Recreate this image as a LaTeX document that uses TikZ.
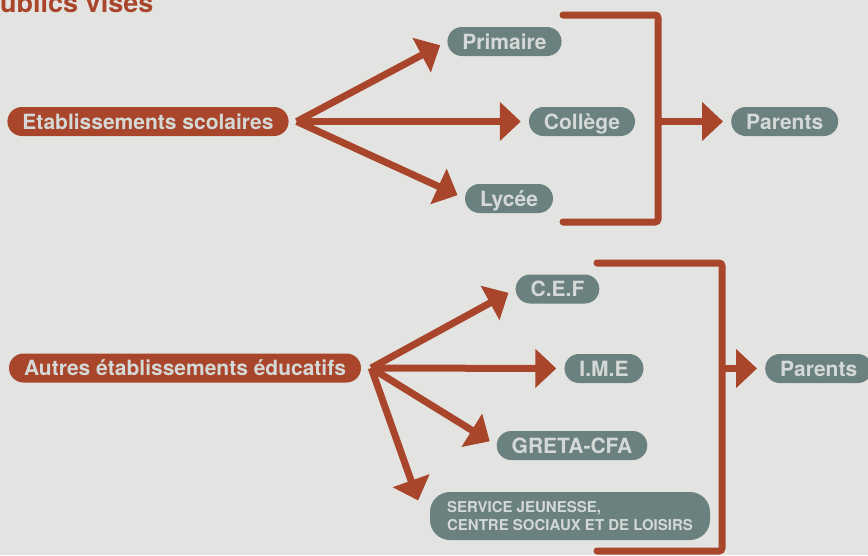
\documentclass[tikz,border=0pt]{standalone}
\usepackage{fontspec}
\setmainfont{TeX Gyre Heros}
\usetikzlibrary{arrows.meta}
\definecolor{brique}{HTML}{A8452A}
\definecolor{ardoise}{HTML}{6B817F}
\definecolor{fond}{HTML}{E3E4E2}
\definecolor{clair}{HTML}{D4D8D6}

\begin{document}
\begin{tikzpicture}[x=1pt,y=-1pt,
    bulle/.style={fill=ardoise,text=clair,inner xsep=15pt,inner ysep=0pt},
    pill/.style={bulle,rounded corners=14.5pt,minimum height=29pt,text height=15pt,text depth=0pt,font=\fontsize{21}{25}\selectfont\bfseries},
    pillr/.style={pill,fill=brique},
    fleche/.style={brique,line width=7pt,-{Triangle[length=21pt,width=38pt]},shorten >=8pt},
    crochet/.style={brique,line width=7pt,line cap=round,rounded corners=3pt}]
    \useasboundingbox (0,0) rectangle (868,555);
    \fill[fond] (0,0) rectangle (868,555);
    \node[anchor=base west,inner sep=0pt,text=brique,font=\fontsize{27}{30}\selectfont\bfseries] (titre) at (-18,12.5) {Publics visés};
    % etablissements scolaires
    \node[pillr] (ecoles) at (148,121.5) {Etablissements scolaires};
    \node[pill] (prim) at (504.5,41.5) {Primaire};
    \node[pill] (coll) at (582,121.5) {Collège};
    \node[pill] (lyc) at (509,198.5) {Lycée};
    \node[pill,anchor=west] (par1) at (731,121.5) {Parents};
    \coordinate (o1) at ([xshift=8pt]ecoles.east);
    \foreach \n in {prim,coll,lyc} \draw[fleche] (o1) -- (\n.west);
    \draw[crochet] (563,15) -- (658,15) -- (658,222) -- (563,222);
    \coordinate (c1) at (658,121.5);
    \draw[fleche] (c1) -- (par1.west);
    % autres etablissements
    \node[pillr] (autres) at (185,368) {Autres établissements éducatifs};
    \node[pill] (cef) at (557.5,289) {C.E.F};
    \node[pill] (ime) at (604,368.5) {I.M.E};
    \node[pill] (greta) at (572,445.5) {GRETA-CFA};
    \node[bulle,rounded corners=20pt,minimum height=48pt,minimum width=280pt,align=left,font=\fontsize{15}{18}\selectfont\bfseries] (serv) at (570,516) {SERVICE JEUNESSE,\\CENTRE SOCIAUX ET DE LOISIRS};
    \node[pill,anchor=west] (par2) at (765,368.5) {Parents};
    \coordinate (o2) at ([xshift=10pt]autres.east);
    \foreach \n in {cef,ime,greta} \draw[fleche] (o2) -- (\n.west);
    \draw[fleche] (o2) -- ([xshift=-9pt,yshift=8pt]serv.west);
    \draw[crochet] (597,263) -- (722,263) -- (722,551) -- (597,551);
    \coordinate (c2) at (722,368.5);
    \draw[fleche] (c2) -- (par2.west);
\end{tikzpicture}
\end{document}
